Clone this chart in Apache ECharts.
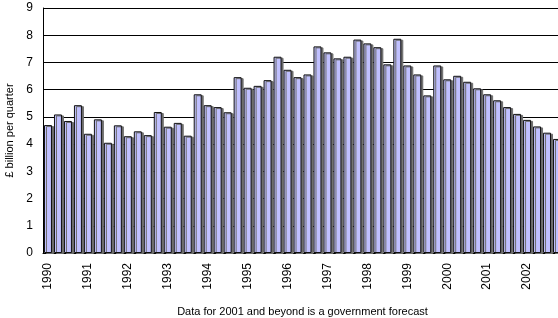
<!DOCTYPE html>
<html>
<head>
<meta charset="utf-8">
<script src="https://cdn.jsdelivr.net/npm/echarts@6/dist/echarts.min.js"></script>
<style>
html, body { margin:0; padding:0; background:#fff; }
#chart { width:558px; height:318px; }
</style>
</head>
<body>
<div id="chart"></div>
<script>
// quarters 1990 Q1 .. 2002 Q4
var years = ['1990','1991','1992','1993','1994','1995','1996','1997','1998','1999','2000','2001','2002'];
var quarters = [];
years.forEach(function (y) { quarters.push(y, y + ' Q2', y + ' Q3', y + ' Q4'); });

// £ billion per quarter
var values = [
  4.70, 5.09, 4.85, 5.43,
  4.38, 4.91, 4.05, 4.69,
  4.29, 4.47, 4.33, 5.18,
  4.64, 4.78, 4.31, 5.83,
  5.43, 5.36, 5.17, 6.46,
  6.07, 6.14, 6.35, 7.21,
  6.73, 6.46, 6.56, 7.59,
  7.37, 7.15, 7.21, 7.84,
  7.70, 7.56, 6.93, 7.87,
  6.89, 6.56, 5.79, 6.89,
  6.38, 6.51, 6.29, 6.05,
  5.83, 5.61, 5.36, 5.11,
  4.89, 4.65, 4.42, 4.19
];

var myChart = echarts.init(document.getElementById('chart'));
var option = {
  animation: false,
  textStyle: { fontFamily: 'Liberation Sans, Arial, sans-serif' },
  grid: { left: 43, top: 8, bottom: 65, width: 519, containLabel: false, outerBoundsMode: 'none' },
  xAxis: {
    type: 'category',
    data: quarters,
    boundaryGap: true,
    name: 'Data for 2001 and beyond is a government forecast',
    nameLocation: 'middle',
    nameGap: 53,
    nameTextStyle: { fontSize: 11, color: '#000' },
    axisLine: { lineStyle: { color: '#000', width: 1 } },
    axisTick: { alignWithLabel: true, interval: 0, length: 5, lineStyle: { color: '#000' } },
    axisLabel: {
      interval: 3, rotate: 90, fontSize: 12, color: '#000', margin: 10,
      formatter: function (v) { return v.slice(0, 4); }
    },
    splitLine: { show: false }
  },
  yAxis: {
    type: 'value',
    min: 0, max: 9, interval: 1,
    name: '£ billion per quarter',
    nameLocation: 'middle',
    nameGap: 22,
    nameTextStyle: { fontSize: 11, color: '#000' },
    axisLine: { show: true, lineStyle: { color: '#000', width: 1 } },
    axisTick: { show: false },
    axisLabel: { fontSize: 12, color: '#000', margin: 10 },
    splitLine: { lineStyle: { color: '#000', width: 1 } }
  },
  series: [{
    type: 'bar',
    data: values,
    barCategoryGap: '20%',
    itemStyle: {
      color: '#c0c0ff',
      borderColor: '#111',
      borderWidth: 1,
      shadowColor: '#6e6e6e',
      shadowOffsetX: 2,
      shadowOffsetY: 1,
      shadowBlur: 0
    }
  }]
};
myChart.setOption(option);
</script>
</body>
</html>
